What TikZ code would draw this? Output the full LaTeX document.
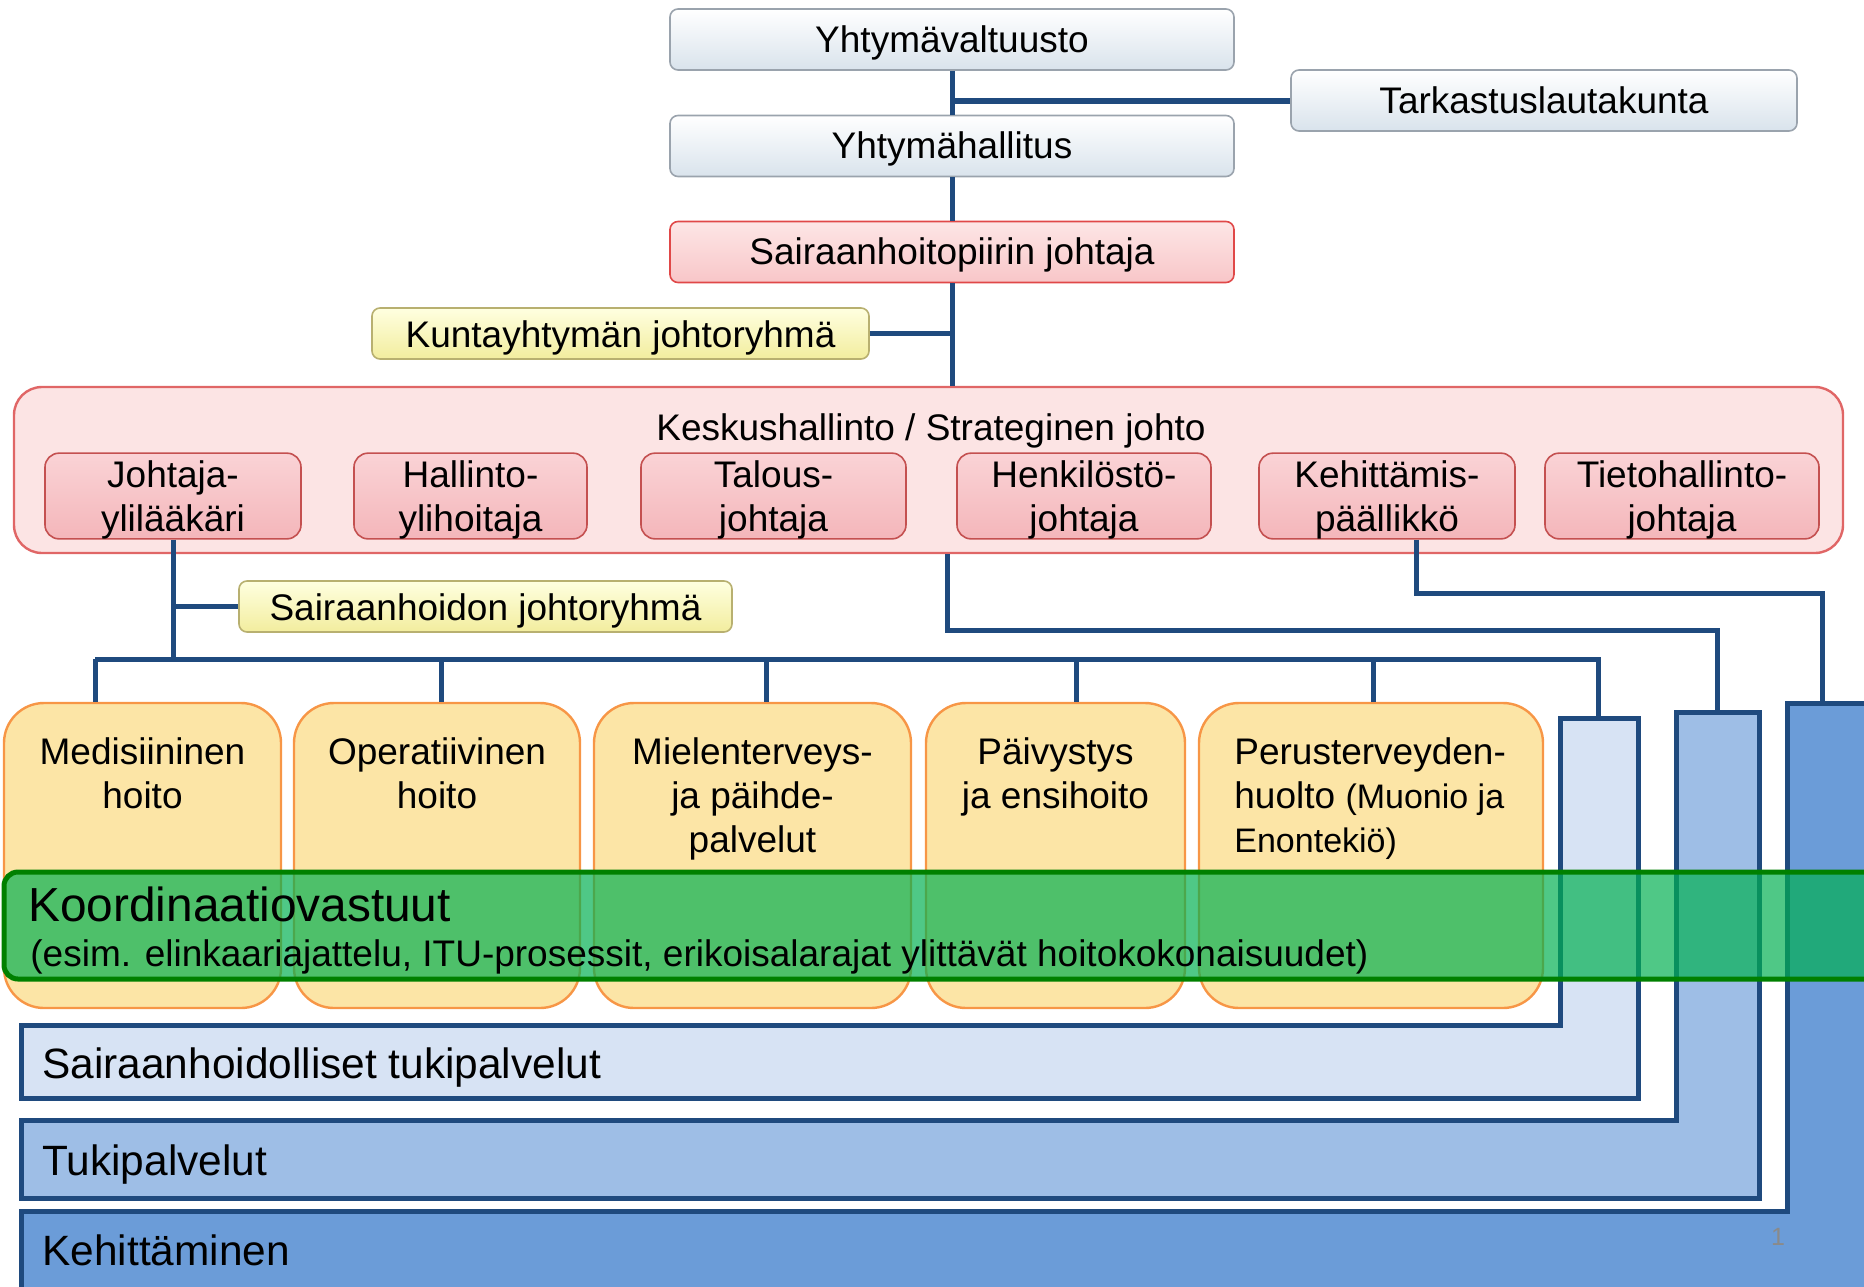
\documentclass[tikz,border=0pt]{standalone}
\usepackage{fontspec}
\setmainfont{Liberation Sans}

\definecolor{linjasin}{HTML}{1F4A7E}
\definecolor{harmaareuna}{HTML}{9AA3AD}
\definecolor{harmaapohja}{HTML}{D9E3EC}
\definecolor{punareuna}{HTML}{E04848}
\definecolor{punayla}{HTML}{FDE6E6}
\definecolor{punapohja}{HTML}{F8C6C8}
\definecolor{keltareuna}{HTML}{B8B070}
\definecolor{keltayla}{HTML}{FFFFE0}
\definecolor{keltapohja}{HTML}{F2ED9E}
\definecolor{keskusreuna}{HTML}{E06666}
\definecolor{keskuspohja}{HTML}{FCE4E4}
\definecolor{johtajareuna}{HTML}{C45050}
\definecolor{johtajayla}{HTML}{FAD3D6}
\definecolor{johtajapohja}{HTML}{F4B6BA}
\definecolor{tulosreuna}{HTML}{F79646}
\definecolor{tulospohja}{HTML}{FCE5A6}
\definecolor{koordreuna}{HTML}{008000}
\definecolor{koordpohja}{HTML}{00B050}
\definecolor{vaalsin}{HTML}{D7E3F4}
\definecolor{keskisin}{HTML}{9EBEE6}
\definecolor{tummasin}{HTML}{6B9CD8}
\definecolor{sivunro}{HTML}{8A8A8A}

\newcommand\orgfont{\fontsize{18.5}{22}\selectfont}
\newcommand\isofont{\fontsize{23.9}{28}\selectfont}
\newcommand\palkkifont{\fontsize{21.2}{25}\selectfont}
\newcommand\pienifont{\fontsize{17}{22}\selectfont}
\newcommand\ylarivi{\rule{0pt}{17pt}}
% L-palkki: vari, sisax, ulkox, pystyn yla, vaakan yla, ala
\newcommand\lpalkki[6]{
  \filldraw[palkki, fill=#1] (21,#5) -- (#2,#5) -- (#2,#4) -- (#3,#4) -- (#3,#6) -- (21,#6) -- cycle ;
}

\tikzset{
  laatikko/.style={rectangle, rounded corners=4pt, inner sep=0pt, line width=0.8pt, font=\orgfont, align=center},
  harmaa/.style={laatikko, draw=harmaareuna, top color=white, bottom color=harmaapohja, minimum height=30.5pt, text height=15pt, text depth=2.5pt},
  punainen/.style={laatikko, draw=punareuna, top color=punayla, bottom color=punapohja, minimum height=30.5pt, text height=15pt, text depth=2.5pt},
  keltainen/.style={laatikko, draw=keltareuna, top color=keltayla, bottom color=keltapohja, minimum height=25.5pt, text height=16pt, text depth=2pt},
  keskus/.style={laatikko, rounded corners=14pt, draw=keskusreuna, fill=keskuspohja, line width=1.2pt, minimum width=914.5pt, minimum height=83pt},
  johtaja/.style={laatikko, rounded corners=7pt, draw=johtajareuna, top color=johtajayla, bottom color=johtajapohja, minimum height=42pt},
  tulos/.style={rectangle, rounded corners=20pt, draw=tulosreuna, fill=tulospohja, line width=1.2pt, minimum height=152.5pt},
  tulosteksti/.style={anchor=north, inner sep=0pt, font=\orgfont, align=center},
  palkkiteksti/.style={anchor=base west, inner sep=0pt, font=\palkkifont},
  linja/.style={draw=linjasin, line width=2.5pt},
  palkki/.style={draw=linjasin, line width=2.5pt},
  koord/.style={draw=koordreuna, fill=koordpohja, fill opacity=0.69, line width=2.5pt, rounded corners=7pt},
}

\begin{document}
\begin{tikzpicture}[x=0.5pt, y=-0.5pt]
    \useasboundingbox (0,0) rectangle (1864,1286);
    \clip (0,0) rectangle (1864,1286);

    % palvelupalkit
    \lpalkki{vaalsin}{1560}{1638}{718}{1025}{1098}
    \lpalkki{keskisin}{1676}{1759}{712}{1120}{1198}
    \lpalkki{tummasin}{1787}{1874}{703}{1211}{1300}

    % hallinto
    \node[harmaa, minimum width=282pt] (valt) at (952,39.5) {Yhtymävaltuusto};
    \node[harmaa, minimum width=253pt] (tark) at (1544,100.5) {Tarkastuslautakunta};
    \node[harmaa, minimum width=282pt] (hall) at (952,146) {Yhtymähallitus};
    \node[punainen, minimum width=282pt] (shpj) at (952,252) {Sairaanhoitopiirin johtaja};
    \node[keltainen, minimum width=248.5pt] (kuntj) at (620.5,333.5) {Kuntayhtymän johtoryhmä};

    \node[keskus] (kesk) at (928.5,470) {};
    \node[anchor=base, inner sep=0pt, font=\orgfont] (keskots) at (931,440) {Keskushallinto / Strateginen johto};
    \node[johtaja, minimum width=128pt] (jyl) at (173,496) {\ylarivi Johtaja-\\ylilääkäri};
    \node[johtaja, minimum width=116.5pt] (hyh) at (470.5,496) {\ylarivi Hallinto-\\ylihoitaja};
    \node[johtaja, minimum width=132.5pt] (tal) at (773.5,496) {\ylarivi Talous-\\johtaja};
    \node[johtaja, minimum width=127pt] (hen) at (1084,496) {\ylarivi Henkilöstö-\\johtaja};
    \node[johtaja, minimum width=128pt] (keh) at (1387,496) {\ylarivi Kehittämis-\\päällikkö};
    \node[johtaja, minimum width=137pt] (tie) at (1682,496) {\ylarivi Tietohallinto-\\johtaja};

    \node[keltainen, minimum width=246.5pt] (shjr) at (485.5,606.5) {Sairaanhoidon johtoryhmä};

    \draw[linja] (valt.south) -- (hall.north);
    \coordinate (tarkliitos) at (valt.south |- tark.west);
    \draw[linja, line width=3pt] (tark.west) -- (tarkliitos);
    \draw[linja] (hall.south) -- (shpj.north);
    \draw[linja] (shpj.south) -- (shpj.south |- kesk.north);
    \draw[linja] (kuntj.east) -- (kuntj.east -| shpj.south);

    % tulosalueet
    \node[tulos, minimum width=138.5pt] (med) at (142.5,855.5) {};
    \node[tulos, minimum width=143pt] (ope) at (437,855.5) {};
    \node[tulos, minimum width=158.5pt] (mie) at (752.5,855.5) {};
    \node[tulos, minimum width=129.5pt] (pai) at (1055.5,855.5) {};
    \node[tulos, minimum width=172pt] (per) at (1371,855.5) {};
    \node[tulosteksti] (medt) at (142.5,733) {\strut Medisiininen\\hoito};
    \node[tulosteksti] (opet) at (437,733) {\strut Operatiivinen\\hoito};
    \node[tulosteksti] (miet) at (752.5,733) {\strut Mielenterveys-\\ja päihde-\\palvelut};
    \node[tulosteksti] (pait) at (1055.5,733) {\strut Päivystys\\ja ensihoito};
    \node[tulosteksti, anchor=north west, align=left] (pert) at (1234,733) {\strut Perusterveyden-\\huolto {\pienifont (Muonio ja}\\{\pienifont Enontekiö)}};

    % yhteydet
    \coordinate (vaylaV) at (95,659);
    \coordinate (vaylaO) at (1598,659);
    \coordinate (vaalsinyla) at (1598,718);
    \draw[linja] (jyl.south) -- (jyl.south |- vaylaV);
    \draw[linja] (shjr.west) -- (shjr.west -| jyl.south);
    \draw[linja] (vaylaV) -- (vaylaO) -- (vaalsinyla);
    \foreach \x/\n in {95/med, 441/ope, 766/mie, 1076/pai, 1373/per}{
      \coordinate (p\n) at (\x,659);
      \draw[linja] (p\n) -- (p\n |- \n.north);
    }
    \coordinate (keskala) at ([xshift=9.25pt]kesk.south);
    \coordinate (keskisinyla) at (1717,712);
    \draw[linja] (keskala) -- ++(0,76) -| (keskisinyla);
    \coordinate (kehala) at ([xshift=14.5pt]keh.south);
    \coordinate (tummasinyla) at (1822,703);
    \draw[linja] (kehala) -- ++(0,54) -| (tummasinyla);

    % koordinaatio
    \draw[koord] (4,872) rectangle (1890,979);
    \node[anchor=base west, inner sep=0pt, font=\isofont] (koordots) at (28,921) {Koordinaatiovastuut};
    \node[anchor=base west, inner sep=0pt, font=\orgfont] (koordsel) at (30,966) {(esim. elinkaariajattelu, ITU-prosessit, erikoisalarajat ylittävät hoitokokonaisuudet)};

    \node[palkkiteksti] (sht) at (42,1078) {Sairaanhoidolliset tukipalvelut};
    \node[palkkiteksti] (tp) at (42,1175) {Tukipalvelut};
    \node[palkkiteksti] (kt) at (42,1265) {Kehittäminen};
    \node[anchor=base, inner sep=0pt, text=sivunro, font=\fontsize{12.5}{15}\selectfont] (sivu) at (1778,1245) {1};
\end{tikzpicture}
\end{document}
